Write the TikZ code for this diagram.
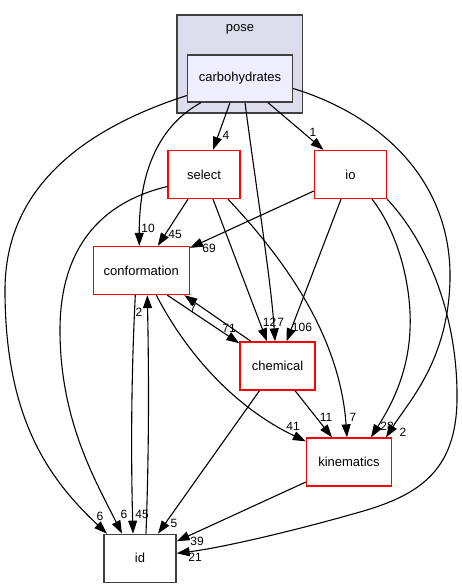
\documentclass[tikz,border=0pt]{standalone}
\usepackage{fontspec}
\setmainfont{Liberation Sans}
\usetikzlibrary{arrows.meta}

\tikzset{
  dirnode/.style={draw=red, fill=white, line width=1.3pt, minimum width=#1, minimum height=48pt,
    inner sep=0pt, font=\fontsize{13}{15}\selectfont},
  extnode/.style={dirnode=#1, draw=black!75},
  lbl/.style={inner sep=0pt, font=\fontsize{12}{14}\selectfont},
  dep/.style={->, line width=1.1pt}
}

\begin{document}
\begin{tikzpicture}[x=1pt, y=-1pt, >={Triangle[length=13pt,width=9pt]}]
\useasboundingbox (0,0) rectangle (461,588);

\draw[fill={rgb,255:red,221;green,221;blue,238}, draw=black!75, line width=1.3pt] (177,15) rectangle (302.5,113);
\node[font=\fontsize{13}{15}\selectfont] (pose) at (240,29) {pose};
\node[extnode=105pt, minimum height=47pt, fill={rgb,255:red,238;green,238;blue,255}] (carb) at (240,78.5) {carbohydrates};

\node[dirnode=72pt] (select) at (204,174.5) {select};
\node[dirnode=72pt] (io) at (350.5,174.5) {io};
\node[dirnode=96pt] (conf) at (141.3,270.5) {conformation};
\node[dirnode=75pt] (chem) at (277.5,366) {chemical};
\node[dirnode=85pt] (kin) at (349,462) {kinematics};
\node[extnode=72pt] (id) at (140,558.3) {id};

\draw[dep] ([xshift=-10pt]carb.south) -- ([xshift=9pt]select.north);
\draw[dep] ([xshift=28pt]carb.south) -- ([xshift=-27pt]io.north);
\draw[dep] ([xshift=-39pt]carb.south) .. controls (160,125) and (139,170) .. ([xshift=-2pt]conf.north);
\draw[dep] ([xshift=5pt]carb.south) .. controls (255,180) and (271,280) .. ([xshift=-2.5pt]chem.north);
\draw[dep] ([yshift=-10pt]carb.east) .. controls (380,115) and (452,180) .. (450,280)
  .. controls (448,360) and (410,400) .. ([xshift=37pt]kin.north);
\draw[dep] ([yshift=-17pt]carb.west) .. controls (80,130) and (5,190) .. (5,290)
  .. controls (5,420) and (50,480) .. ([xshift=-33pt]id.north);

\draw[dep] ([xshift=-16pt]select.south) -- ([xshift=16.5pt]conf.north);
\draw[dep] ([xshift=9pt]select.south) -- ([xshift=-10.5pt]chem.north);
\draw[dep] ([xshift=24pt]select.south) .. controls (290,265) and (340,340) .. ([xshift=-2pt]kin.north);
\draw[dep] ([yshift=-12pt]select.west) .. controls (90,205) and (60,260) .. (60,330)
  .. controls (60,420) and (95,480) .. ([xshift=-18pt]id.north);

\draw[dep] ([yshift=-16.5pt]io.west) -- ([yshift=-2pt]conf.north east);
\draw[dep] ([xshift=-9.5pt]io.south) -- ([xshift=9pt]chem.north);
\draw[dep] ([xshift=21.5pt]io.south) .. controls (400,235) and (412,290) .. (410,330)
  .. controls (408,380) and (385,415) .. ([xshift=22pt]kin.north);
\draw[dep] (io.south east) .. controls (430,245) and (458,320) .. (457,400)
  .. controls (456,470) and (420,495) .. (360,512)
  .. controls (290,532) and (220,548) .. ([yshift=5pt]id.east);

\draw[dep] ([xshift=26pt]conf.south) -- ([yshift=-2pt]chem.north west);
\draw[dep] ([xshift=-26.5pt]chem.north) -- ([xshift=43pt]conf.south);
\draw[dep] ([xshift=15pt]conf.south) .. controls (190,360) and (240,410) .. ([yshift=-4pt]kin.north west);
\draw[dep] ([xshift=-6pt]conf.south) .. controls (131,380) and (131,460) .. ([xshift=-7pt]id.north);
\draw[dep] ([xshift=6pt]id.north) .. controls (149,450) and (149,380) .. ([xshift=6pt]conf.south);

\draw[dep] ([xshift=17.5pt]chem.south) -- ([xshift=-17pt]kin.north);
\draw[dep] ([xshift=-18pt]chem.south) -- ([xshift=18pt]id.north);
\draw[dep] ([yshift=-20pt]kin.west) -- ([yshift=17pt]id.east);

\node[lbl] (l4) at (226,135) {4};
\node[lbl] (l1) at (313,132) {1};
\node[lbl] (l10) at (148,228) {10};
\node[lbl] (l45a) at (175,234) {45};
\node[lbl] (l69) at (209,248) {69};
\node[lbl] (l12) at (269.5,322) {12};
\node[lbl] (l7a) at (280.7,322) {7};
\node[lbl] (l106) at (302,327) {106};
\node[lbl] (l71) at (229,328) {71};
\node[lbl] (l7b) at (193,308) {7};
\node[lbl] (l2a) at (139,312) {2};
\node[lbl] (l41) at (293,426) {41};
\node[lbl] (l11) at (326,417) {11};
\node[lbl] (l7c) at (353,417) {7};
\node[lbl] (l28) at (387,426) {28};
\node[lbl] (l2b) at (403,432) {2};
\node[lbl] (l6a) at (100,516) {6};
\node[lbl] (l6b) at (124,514) {6};
\node[lbl] (l45b) at (142,514) {45};
\node[lbl] (l5) at (174,523) {5};
\node[lbl] (l39) at (197,541) {39};
\node[lbl] (l21) at (195,557) {21};

\end{tikzpicture}
\end{document}
